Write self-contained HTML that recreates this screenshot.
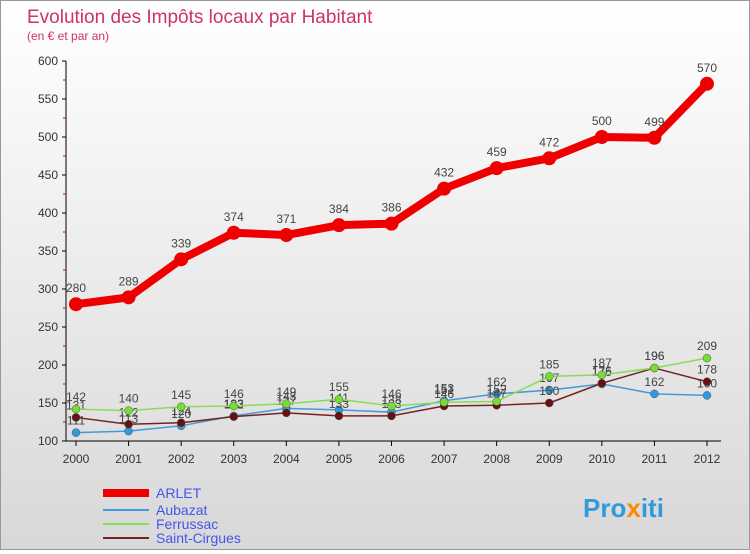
<!DOCTYPE html>
<html><head><meta charset="utf-8"><style>
body{margin:0;width:750px;height:550px;overflow:hidden;font-family:"Liberation Sans",sans-serif}
#wrap{position:relative;width:748px;height:548px;border:1px solid #999;background:linear-gradient(#ffffff,#d8d8d8)}
</style></head><body>
<div id="wrap">
<svg id="chart" width="748" height="548">
<text x="26" y="22" font-size="19" fill="#cc3366">Evolution des Impôts locaux par Habitant</text>
<text x="26" y="39" font-size="12" fill="#cc3366">(en € et par an)</text>
<g id="axes"></g><g id="series"></g>
<g>
<line x1="102" y1="492" x2="148" y2="492" stroke="#ee0000" stroke-width="8"/>
<text x="155" y="497" font-size="14" fill="#4455ee">ARLET</text>
<line x1="102" y1="509" x2="148" y2="509" stroke="#4499dd" stroke-width="2"/>
<text x="155" y="514" font-size="14" fill="#4455ee">Aubazat</text>
<line x1="102" y1="523" x2="148" y2="523" stroke="#88dd55" stroke-width="2"/>
<text x="155" y="528" font-size="14" fill="#4455ee">Ferrussac</text>
<line x1="102" y1="537" x2="148" y2="537" stroke="#772222" stroke-width="2"/>
<text x="155" y="542" font-size="14" fill="#4455ee">Saint-Cirgues</text>
</g>
<text x="582" y="516" font-size="26" font-weight="bold" fill="#3399dd">Pro<tspan fill="#ff8800">x</tspan>iti</text>
</svg></div>
<script>
const years=[2000,2001,2002,2003,2004,2005,2006,2007,2008,2009,2010,2011,2012];
const yTicks=[100,150,200,250,300,350,400,450,500,550,600];
const arlet=[280,289,339,374,371,384,386,432,459,472,500,499,570];
const aubazat=[111,113,120,133,143,141,138,153,162,167,175,162,160];
const ferrussac=[142,140,145,146,149,155,146,151,152,185,187,196,209];
const saintCirgues=[131,122,124,132,137,133,133,146,147,150,176,196,178];
const NS="http://www.w3.org/2000/svg";
const X=i=>75+i*(631/12), Y=v=>440-(v-100)*0.76;
function mk(t,a,p){const e=document.createElementNS(NS,t);for(const k in a)e.setAttribute(k,a[k]);p.appendChild(e);return e;}
const ax=document.getElementById('axes'), sg=document.getElementById('series');
const yl=mk('line',{x1:65,y1:60,x2:65,y2:440,stroke:'#000'},ax);


const xl=mk('line',{x1:65,y1:440,x2:720,y2:440,stroke:'#000'},ax);


yTicks.forEach(v=>{mk('line',{x1:61,y1:Y(v),x2:65,y2:Y(v),stroke:'#000'},ax);
 if(v<600)mk('line',{x1:62,y1:Y(v+25),x2:65,y2:Y(v+25),stroke:'#d00'},ax);
 const t=mk('text',{x:57,y:Y(v)+4,'font-size':12,'text-anchor':'end',fill:'#333'},ax);t.textContent=v;
 
 });
years.forEach((y,i)=>{mk('line',{x1:X(i),y1:440,x2:X(i),y2:445,stroke:'#000'},ax);
 const t=mk('text',{x:X(i),y:462,'font-size':12,'text-anchor':'middle',fill:'#333'},ax);t.textContent=y;
 
 });
function draw(data,color,w,r,name,dot){
 const p=mk('polyline',{points:data.map((v,i)=>X(i)+','+Y(v)).join(' '),fill:'none',stroke:color,'stroke-width':w,'stroke-linejoin':'round'},sg);
 
 
 data.forEach((v,i)=>{const c=mk('circle',{cx:X(i),cy:Y(v),r:r,fill:dot,stroke:'#555','stroke-width':w>3?0:0.5},sg);
  
  
  const t=mk('text',{x:X(i),y:Y(v)-(w>3?12:8),'font-size':12,'text-anchor':'middle',fill:'#444'},sg);t.textContent=v;
  
  });
}
draw(aubazat,'#4499dd',1.5,4,'aubazat','#3399dd');
draw(saintCirgues,'#772222',1.5,4,'saint-cirgues','#661111');
draw(ferrussac,'#88dd55',1.5,4,'ferrussac','#77dd33');
draw(arlet,'#ee0000',8,7,'arlet','#ee0000');
</script>
</body></html>
